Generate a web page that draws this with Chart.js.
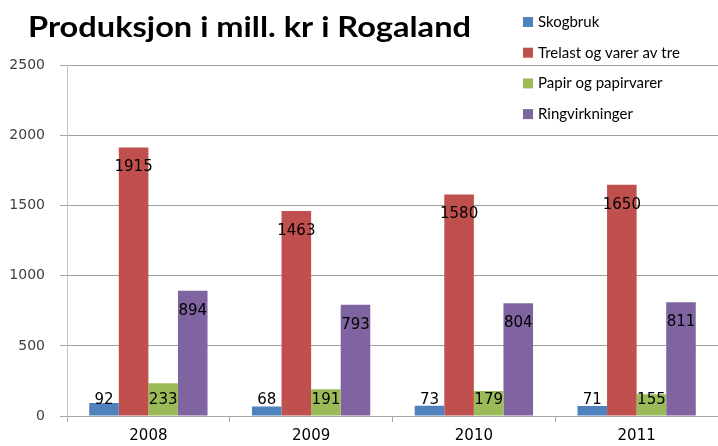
<!DOCTYPE html>
<html>
<head>
<meta charset="utf-8">
<script src="https://cdn.jsdelivr.net/npm/chart.js@4/dist/chart.umd.min.js"></script>
<style>
html,body{margin:0;padding:0;background:#fff;}
#wrap{width:718px;height:446px;position:relative;}
</style>
</head>
<body>
<div id="wrap"><canvas id="c" width="718" height="446"></canvas></div>
<script>
const categories = ['2008', '2009', '2010', '2011'];
const seriesNames = ['Skogbruk', 'Trelast og varer av tre', 'Papir og papirvarer', 'Ringvirkninger'];
const skogbruk = [92, 68, 73, 71];
const trelast = [1915, 1463, 1580, 1650];
const papir = [233, 191, 179, 155];
const ringvirkninger = [894, 793, 804, 811];
const yTicks = [0, 500, 1000, 1500, 2000, 2500];
const colors = ['#4f81bd', '#c0504d', '#9bbb59', '#8064a2'];
const titleText = 'Produksjon i mill. kr i Rogaland';

const seriesValues = [skogbruk, trelast, papir, ringvirkninger];

const valueLabels = {
  id: 'valueLabels',
  afterDatasetsDraw(chart) {
    const ctx = chart.ctx;
    const y0 = chart.scales.y.getPixelForValue(0);
    ctx.save();
    ctx.font = '15px "DejaVu Sans"';
    ctx.fillStyle = '#000';
    ctx.textAlign = 'center';
    ctx.textBaseline = 'middle';
    chart.data.datasets.forEach((ds, i) => {
      const meta = chart.getDatasetMeta(i);
      meta.data.forEach((bar, j) => {
        const y = Math.min(bar.y + 20, y0 - 16);
        ctx.fillText(String(ds.data[j]), bar.x, y);
      });
    });
    ctx.restore();
  }
};

const titleAndLegend = {
  id: 'titleAndLegend',
  afterDraw(chart) {
    const ctx = chart.ctx;
    ctx.save();
    // title
    ctx.font = 'bold 28px Lato';
    ctx.fillStyle = '#000';
    ctx.textAlign = 'left';
    ctx.textBaseline = 'alphabetic';
    const w = ctx.measureText(titleText).width;
    const sx = 443 / w;
    ctx.save();
    ctx.translate(28, 37);
    ctx.scale(sx, 1);
    ctx.fillText(titleText, 0, 0);
    ctx.restore();
    // legend
    ctx.font = '15px Lato';
    ctx.textBaseline = 'middle';
    chart.data.datasets.forEach((ds, i) => {
      const cy = 22 + i * 30.7;
      ctx.fillStyle = ds.backgroundColor;
      ctx.fillRect(523, cy - 5, 10, 10);
      ctx.fillStyle = '#000';
      ctx.fillText(ds.label, 538, cy);
    });
    ctx.restore();
  }
};

new Chart(document.getElementById('c'), {
  type: 'bar',
  data: {
    labels: categories,
    datasets: seriesNames.map((name, i) => ({
      label: name,
      data: seriesValues[i],
      backgroundColor: colors[i],
      borderWidth: 0,
      barPercentage: 1.0,
      categoryPercentage: 0.727
    }))
  },
  options: {
    responsive: false,
    animation: false,
    layout: { padding: { left: 0, right: -4, top: 65.5, bottom: 0 } },
    plugins: {
      legend: { display: false },
      tooltip: { enabled: false },
      title: { display: false }
    },
    scales: {
      x: {
        grid: { display: true, drawOnChartArea: false, tickLength: 6, color: '#a6a6a6', offset: true },
        border: { color: '#a6a6a6' },
        ticks: { color: '#000', font: { family: 'DejaVu Sans', size: 15 }, padding: 5, maxRotation: 0 },
        afterFit(scale) { scale.height = 30; }
      },
      y: {
        min: 0,
        max: 2500,
        afterBuildTicks(scale) { scale.ticks = yTicks.map(v => ({ value: v })); },
        grid: { color: '#a0a0a0', tickLength: 7, tickColor: '#a6a6a6' },
        border: { color: '#c0c0c0' },
        ticks: { color: '#404040', font: { family: 'DejaVu Sans', size: 14 }, padding: 15, callback: v => String(v) },
        afterFit(scale) { scale.width = 67; }
      }
    }
  },
  plugins: [valueLabels, titleAndLegend]
});
</script>
</body>
</html>
